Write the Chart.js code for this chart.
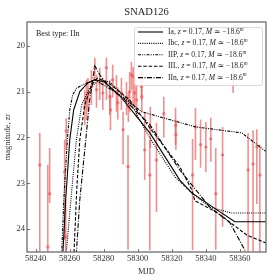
<!DOCTYPE html>
<html><head><meta charset="utf-8">
<script src="https://cdn.jsdelivr.net/npm/chart.js@4/dist/chart.umd.min.js"></script>
<style>html,body{margin:0;padding:0;background:#fff;}canvas{display:block;}</style>
</head><body>
<canvas id="c" width="280" height="280"></canvas>
<script>
// ---- data ----
const chartTitle = 'SNAD126';
const bestType = 'IIn';
const xTickValues = [58240, 58260, 58280, 58300, 58320, 58340, 58360];
const yTickValues = [20, 21, 22, 23, 24];

const obsMjd = [58242.5,58247.2,58248.3,58257.1,58258.0,58257.7,58268.9,58269.9,58270.8,58272.8,58274.8,58275.8,58277.7,58279.5,58281.6,58283.6,58284.0,58285.3,58287.5,58288.3,58290.4,58291.4,58293.4,58294.3,58294.5,58295.3,58296.3,58297.3,58298.3,58299.3,58302.2,58302.4,58304.1,58307.4,58307.1,58311.0,58315.3,58322.2,58322.4,58332.2,58333.9,58336.9,58340.0,58342.9,58345.8,58349.8,58356.0,58364.8,58367.7,58369.9,58371.7];
const obsMag = [22.60,24.39,23.23,22.75,21.86,24.17,21.33,21.18,21.07,20.89,20.48,20.96,20.81,21.03,20.48,21.11,21.40,20.74,21.03,21.24,21.03,21.83,21.14,22.64,21.33,21.00,20.63,20.67,21.03,21.18,20.89,21.11,22.27,21.79,22.82,22.49,21.48,21.74,21.94,22.82,21.77,22.16,22.21,22.03,23.23,22.38,20.67,22.71,22.58,22.21,22.82];
const obsErrBright = [0.70,1.79,1.00,0.70,0.28,0.81,0.36,0.44,0.37,0.36,0.22,0.33,0.33,0.33,0.22,0.36,0.33,0.33,0.39,0.33,0.33,0.39,0.35,0.69,0.32,0.43,0.28,0.21,0.33,0.33,0.32,0.36,0.81,0.46,0.76,0.81,0.37,0.39,0.33,0.79,0.41,0.55,0.55,0.46,1.00,0.61,0.19,0.81,0.74,0.39,0.66];
const obsErrFaint = [2.12,0.40,0.20,1.48,0.41,0.55,0.40,0.44,0.37,0.40,0.26,0.39,0.37,0.37,0.70,0.40,0.44,0.39,0.41,0.37,0.37,0.76,0.37,1.81,0.33,0.44,0.33,0.62,0.33,0.39,0.29,0.33,0.66,0.44,1.64,1.14,0.52,0.42,0.33,1.64,0.72,0.50,0.55,0.50,1.22,1.57,0.36,1.96,2.10,1.24,1.85];

const modelTypes = ['Ia', 'Ibc', 'IIP', 'IIL', 'IIn'];
const modelRedshift = ['0.17', '0.17', '0.17', '0.17', '0.17'];
const modelAbsMag = ['−18.6', '−18.6', '−18.6', '−18.6', '−18.6'];

const iaMjd = [58255.4,58256.1,58257.7,58260.1,58262.4,58266.0,58270.7,58274.8,58280.6,58289.5,58307.1,58324.7,58331.7,58344.1,58357.0,58376.4];
const iaMag = [25.55,24.50,23.36,22.05,21.40,21.00,20.81,20.74,20.79,21.09,21.90,22.93,23.21,23.52,23.84,23.84];
const ibcMjd = [58257.1,58258.1,58261.3,58264.0,58267.1,58271.8,58277.7,58283.6,58295.3,58307.1,58321.8,58331.7,58342.3,58355.2,58376.4];
const ibcMag = [25.55,24.50,23.14,22.05,21.29,20.92,20.74,20.79,21.22,22.01,22.86,23.21,23.52,23.65,23.65];
const iipMjd = [58254.8,58255.4,58256.6,58258.7,58260.1,58261.8,58264.2,58268.9,58274.8,58289.5,58302.4,58334.1,58361.1,58376.4];
const iipMag = [25.55,24.50,23.36,22.05,21.40,21.07,20.92,20.83,20.74,21.07,21.44,21.77,21.90,22.34];
const iilMjd = [58261.8,58262.6,58264.2,58266.0,58268.9,58273.0,58276.5,58283.6,58295.3,58307.1,58324.7,58331.7,58333.5,58347.0,58364.0,58376.4];
const iilMag = [25.55,24.50,23.14,22.05,21.29,20.85,20.70,20.83,21.18,21.79,22.64,23.14,23.38,23.65,24.13,24.32];
const iinMjd = [58263.0,58264.0,58266.0,58269.5,58271.8,58274.8,58277.7,58281.8,58292.4,58307.1,58324.7,58342.3,58354.1,58363.5,58365.8];
const iinMag = [25.55,24.50,23.36,22.05,21.18,20.44,20.63,20.85,21.18,21.72,22.71,23.52,23.86,24.50,24.89];

// ---- styling ----
const SERIF = '"Liberation Serif", "DejaVu Serif", serif';
const obsColor = 'rgba(236,88,88,0.68)';
const dashes = [[], [1, 1.2], [3, 1.2, 1, 1.2, 1, 1.2], [3.5, 1.8], [5, 1.5, 1, 1.5]];
const modelSeries = [[iaMjd, iaMag], [ibcMjd, ibcMag], [iipMjd, iipMag], [iilMjd, iilMag], [iinMjd, iinMag]];

const zip = (xs, ys) => xs.map((x, i) => ({x: x, y: ys[i]}));

const datasets = [{
  label: 'obs',
  data: zip(obsMjd, obsMag),
  showLine: false,
  pointRadius: 1.7,
  pointStyle: 'circle',
  backgroundColor: obsColor,
  borderWidth: 0,
  order: 10
}];
modelSeries.forEach((s, k) => {
  datasets.push({
    label: modelTypes[k],
    data: zip(s[0], s[1]),
    showLine: true,
    borderColor: '#000',
    borderWidth: 1.1,
    borderDash: dashes[k],
    pointRadius: 0,
    fill: false,
    tension: 0,
    order: 1
  });
});

const errorBars = {
  id: 'errorBars',
  beforeDatasetsDraw(chart) {
    const {ctx, chartArea: a, scales: {x, y}} = chart;
    ctx.save();
    ctx.beginPath(); ctx.rect(a.left, a.top, a.right - a.left, a.bottom - a.top); ctx.clip();
    ctx.strokeStyle = obsColor; ctx.lineWidth = 1.6;
    obsMjd.forEach((m, i) => {
      const px = x.getPixelForValue(m);
      ctx.beginPath();
      ctx.moveTo(px, y.getPixelForValue(obsMag[i] - obsErrBright[i]));
      ctx.lineTo(px, y.getPixelForValue(obsMag[i] + obsErrFaint[i]));
      ctx.stroke();
    });
    ctx.restore();
  }
};

function drawRich(ctx, parts, x, y, size) {
  let cx = x;
  parts.forEach(p => {
    const fs = p.sup ? size * 0.7 : size;
    ctx.font = (p.i || p.sup ? 'italic ' : '') + fs + 'px ' + SERIF;
    ctx.fillText(p.t, cx, p.sup ? y - size * 0.35 : y);
    cx += ctx.measureText(p.t).width;
  });
}

const decorations = {
  id: 'decorations',
  afterDraw(chart) {
    const {ctx, chartArea: a, scales: {x, y}} = chart;
    ctx.save();
    // frame
    ctx.strokeStyle = '#777'; ctx.lineWidth = 1.4;
    ctx.strokeRect(a.left, a.top, a.right - a.left, a.bottom - a.top);
    // inward ticks
    ctx.strokeStyle = '#555'; ctx.lineWidth = 0.8;
    xTickValues.forEach(v => {
      const px = Math.round(x.getPixelForValue(v)) + 0.5;
      ctx.beginPath(); ctx.moveTo(px, a.bottom); ctx.lineTo(px, a.bottom - 3); ctx.stroke();
    });
    yTickValues.forEach(v => {
      const py = Math.round(y.getPixelForValue(v)) + 0.5;
      ctx.beginPath(); ctx.moveTo(a.left, py); ctx.lineTo(a.left + 3, py); ctx.stroke();
    });
    // title
    ctx.fillStyle = '#222';
    ctx.font = '10.5px ' + SERIF; ctx.textAlign = 'center'; ctx.textBaseline = 'middle';
    ctx.fillText(chartTitle, (a.left + a.right) / 2, 12);
    // best type
    ctx.textAlign = 'left';
    ctx.font = '8px ' + SERIF;
    ctx.fillText('Best type: ' + bestType, a.left + 9, a.top + 12);
    // legend box
    const lx = 134, ly = 27, lw = 128, lh = 58;
    ctx.fillStyle = 'rgba(255,255,255,0.85)';
    ctx.strokeStyle = '#d0d0d0'; ctx.lineWidth = 0.8;
    ctx.beginPath();
    if (ctx.roundRect) ctx.roundRect(lx + 0.5, ly + 0.5, lw, lh, 2); else ctx.rect(lx + 0.5, ly + 0.5, lw, lh);
    ctx.fill(); ctx.stroke();
    modelTypes.forEach((t, k) => {
      const ry = 32 + k * 11.4;
      ctx.strokeStyle = '#000'; ctx.lineWidth = 1.1; ctx.setLineDash(dashes[k]);
      ctx.beginPath(); ctx.moveTo(138, ry); ctx.lineTo(163, ry); ctx.stroke();
      ctx.setLineDash([]);
      ctx.fillStyle = '#222'; ctx.textBaseline = 'middle';
      drawRich(ctx, [
        {t: t + ', '}, {t: 'z', i: true}, {t: ' = ' + modelRedshift[k] + ', '},
        {t: 'M', i: true}, {t: ' ≃ ' + modelAbsMag[k]}, {t: 'm', sup: true}
      ], 168, ry, 7.6);
    });
    ctx.restore();
  }
};

new Chart(document.getElementById('c'), {
  type: 'scatter',
  data: {datasets: datasets},
  plugins: [errorBars, decorations],
  options: {
    responsive: false,
    animation: false,
    devicePixelRatio: 1,
    layout: {padding: {top: 22, right: 14, left: 0, bottom: 0}},
    plugins: {legend: {display: false}, tooltip: {enabled: false}, title: {display: false}},
    scales: {
      x: {
        type: 'linear', min: 58235, max: 58375.3,
        afterBuildTicks: s => { s.ticks = xTickValues.map(v => ({value: v})); },
        afterFit: s => { s.height = 28; },
        grid: {display: false, drawTicks: false},
        border: {display: false},
        ticks: {color: '#333', font: {family: SERIF, size: 8.5}, padding: 2, maxRotation: 0, autoSkip: false,
                callback: v => String(v)},
        title: {display: true, text: 'MJD', color: '#333', font: {family: SERIF, size: 8.5}, padding: {top: 0, bottom: 3}}
      },
      y: {
        type: 'linear', reverse: true, min: 19.48, max: 24.5,
        afterBuildTicks: s => { s.ticks = yTickValues.map(v => ({value: v})); },
        afterFit: s => { s.width = 27; },
        grid: {display: false, drawTicks: false},
        border: {display: false},
        ticks: {color: '#333', font: {family: SERIF, size: 8.5}, padding: 2, autoSkip: false,
                callback: v => String(v)},
        title: {display: true, text: 'magnitude, zr', color: '#333', font: {family: SERIF, size: 8.5}, padding: {top: 3, bottom: 0}}
      }
    }
  }
});
</script>
</body></html>
